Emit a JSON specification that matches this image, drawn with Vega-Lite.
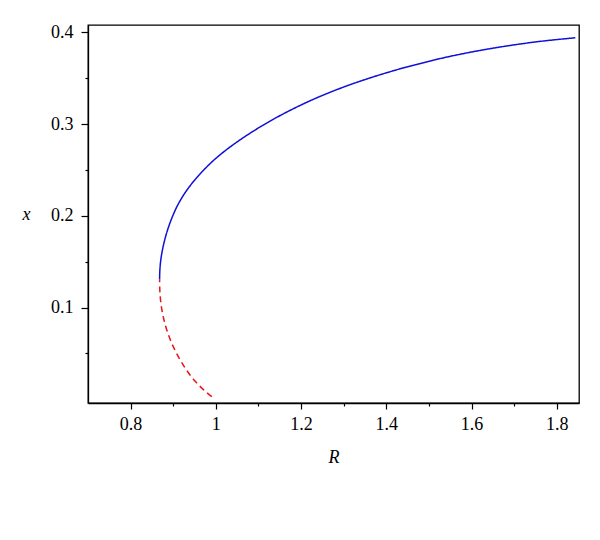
{
  "$schema": "https://vega.github.io/schema/vega-lite/v6.json",
  "autosize": "none",
  "width": 491,
  "height": 378,
  "padding": {"left": 88, "top": 25, "right": 21, "bottom": 137},
  "background": "white",
  "config": {
    "view": {"stroke": "#000000", "strokeWidth": 1.3},
    "font": "Liberation Serif"
  },
  "data": {
    "values": [
      {"branch": "unstable", "R": 0.9905, "x": 0.003},
      {"branch": "unstable", "R": 0.972, "x": 0.01},
      {"branch": "unstable", "R": 0.951, "x": 0.02},
      {"branch": "unstable", "R": 0.934, "x": 0.03},
      {"branch": "unstable", "R": 0.920, "x": 0.04},
      {"branch": "unstable", "R": 0.908, "x": 0.05},
      {"branch": "unstable", "R": 0.8975, "x": 0.06},
      {"branch": "unstable", "R": 0.889, "x": 0.07},
      {"branch": "unstable", "R": 0.882, "x": 0.08},
      {"branch": "unstable", "R": 0.8765, "x": 0.09},
      {"branch": "unstable", "R": 0.8725, "x": 0.10},
      {"branch": "unstable", "R": 0.8698, "x": 0.11},
      {"branch": "unstable", "R": 0.8684, "x": 0.12},
      {"branch": "unstable", "R": 0.868, "x": 0.131},
      {"branch": "stable", "R": 0.868, "x": 0.131},
      {"branch": "stable", "R": 0.8685, "x": 0.14},
      {"branch": "stable", "R": 0.8703, "x": 0.15},
      {"branch": "stable", "R": 0.8735, "x": 0.16},
      {"branch": "stable", "R": 0.878, "x": 0.17},
      {"branch": "stable", "R": 0.8836, "x": 0.18},
      {"branch": "stable", "R": 0.8906, "x": 0.19},
      {"branch": "stable", "R": 0.8989, "x": 0.20},
      {"branch": "stable", "R": 0.9086, "x": 0.21},
      {"branch": "stable", "R": 0.9206, "x": 0.22},
      {"branch": "stable", "R": 0.9351, "x": 0.23},
      {"branch": "stable", "R": 0.9521, "x": 0.24},
      {"branch": "stable", "R": 0.9716, "x": 0.25},
      {"branch": "stable", "R": 0.9936, "x": 0.26},
      {"branch": "stable", "R": 1.0191, "x": 0.27},
      {"branch": "stable", "R": 1.0481, "x": 0.28},
      {"branch": "stable", "R": 1.0801, "x": 0.29},
      {"branch": "stable", "R": 1.1151, "x": 0.30},
      {"branch": "stable", "R": 1.1536, "x": 0.31},
      {"branch": "stable", "R": 1.1961, "x": 0.32},
      {"branch": "stable", "R": 1.2436, "x": 0.33},
      {"branch": "stable", "R": 1.2976, "x": 0.34},
      {"branch": "stable", "R": 1.3596, "x": 0.35},
      {"branch": "stable", "R": 1.4306, "x": 0.36},
      {"branch": "stable", "R": 1.5136, "x": 0.37},
      {"branch": "stable", "R": 1.5616, "x": 0.375},
      {"branch": "stable", "R": 1.6166, "x": 0.38},
      {"branch": "stable", "R": 1.6806, "x": 0.385},
      {"branch": "stable", "R": 1.7581, "x": 0.39},
      {"branch": "stable", "R": 1.8434, "x": 0.3941}
    ]
  },
  "mark": {"type": "line", "interpolate": "catmull-rom", "strokeWidth": 1.5},
  "encoding": {
    "x": {
      "field": "R", "type": "quantitative",
      "scale": {"domain": [0.70, 1.852], "nice": false, "zero": false},
      "axis": {
        "title": "R",
        "titleFont": "Liberation Serif", "titleFontStyle": "italic", "titleFontWeight": "normal", "titleFontSize": 18, "titleColor": "#000",
        "titleY": 54, "titleBaseline": "middle",
        "values": [0.8, 0.9, 1.0, 1.1, 1.2, 1.3, 1.4, 1.5, 1.6, 1.7, 1.8],
        "format": "~g",
        "labelExpr": "round(datum.value*10) % 2 == 0 ? datum.label : ''",
        "labelFont": "Liberation Serif", "labelFontSize": 18, "labelColor": "#000",
        "labelPadding": 6,
        "tickSize": {"condition": {"test": "round(datum.value*10) % 2 == 0", "value": 6}, "value": 3},
        "tickColor": "#000", "tickWidth": 1.2,
        "domainColor": "#000", "domainWidth": 1.3,
        "grid": false
      }
    },
    "y": {
      "field": "x", "type": "quantitative",
      "scale": {"domain": [-0.004, 0.408], "nice": false, "zero": false},
      "axis": {
        "title": "x",
        "titleFont": "Liberation Serif", "titleFontStyle": "italic", "titleFontWeight": "normal", "titleFontSize": 18, "titleColor": "#000",
        "titleAngle": 0, "titleX": -62, "titleY": 189, "titleBaseline": "middle", "titleAlign": "center",
        "values": [0.05, 0.1, 0.15, 0.2, 0.25, 0.3, 0.35, 0.4],
        "format": "~g",
        "labelExpr": "round(datum.value*20) % 2 == 0 ? datum.label : ''",
        "labelFont": "Liberation Serif", "labelFontSize": 18, "labelColor": "#000",
        "labelPadding": 8,
        "tickSize": {"condition": {"test": "round(datum.value*20) % 2 == 0", "value": 7}, "value": 3},
        "tickColor": "#000", "tickWidth": 1.2,
        "domainColor": "#000", "domainWidth": 1.3,
        "grid": false
      }
    },
    "color": {
      "field": "branch", "type": "nominal",
      "scale": {"domain": ["stable", "unstable"], "range": ["#1010d8", "#e8141c"]},
      "legend": null
    },
    "strokeDash": {
      "field": "branch", "type": "nominal",
      "scale": {"domain": ["stable", "unstable"], "range": [[1, 0], [6, 4]]},
      "legend": null
    },
    "order": {"field": "x", "type": "quantitative"}
  }
}
